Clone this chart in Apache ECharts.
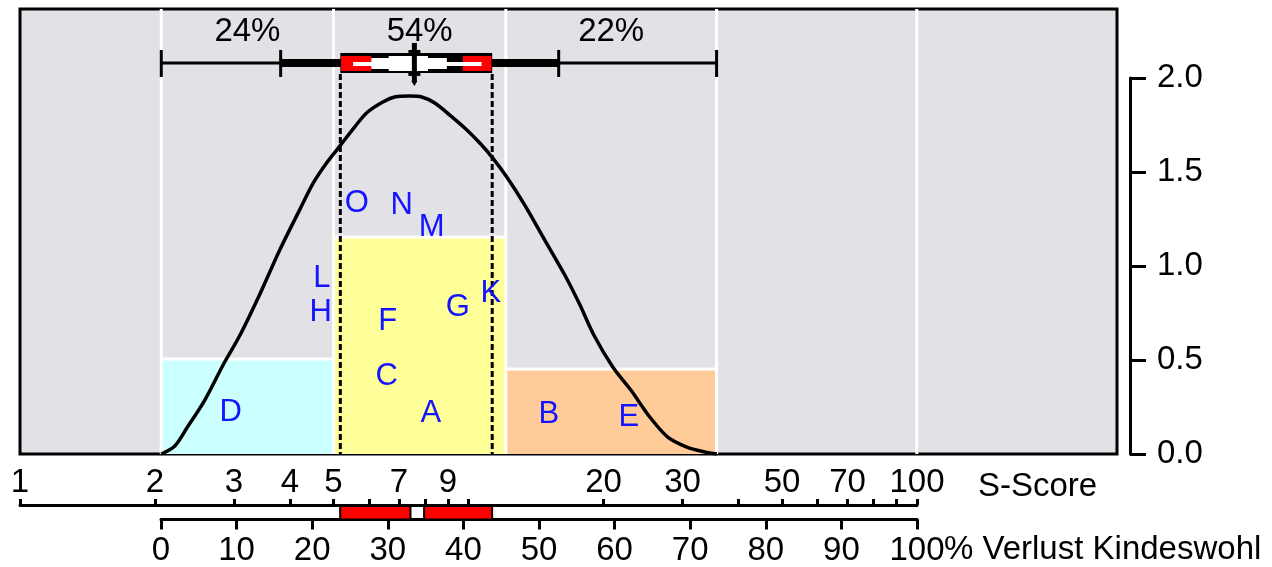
<!DOCTYPE html>
<html>
<head>
<meta charset="utf-8">
<script src="https://cdn.jsdelivr.net/npm/echarts@6/dist/echarts.min.js"></script>
<style>
  html, body { margin: 0; padding: 0; background: #fff; }
  #chart { width: 1272px; height: 567px; }
</style>
</head>
<body>
<div id="chart"></div>
<script>
// x positions are in "% Verlust Kindeswohl", heights in density units
const zoneEdges = [0, 22.8, 45.6, 73.5, 100];
const zoneShares = ['24%', '54%', '22%'];

const blockFrom = [0, 22.8, 45.6];
const blockTo = [22.8, 45.6, 73.5];
const blockHeight = [0.505, 1.154, 0.452];
const blockColors = ['#ccffff', '#ffff99', '#ffcc99'];

const curveX = [0, 1.79, 3.38, 5.76, 8.27, 10.39, 13.04, 15.68, 18.33, 20.05, 21.64, 23.63,
  25.61, 27.2, 29.32, 30.91, 32.89, 34.48, 36.2, 38.19, 40.17, 42.16, 43.88, 45.73, 48.11,
  50.76, 53.41, 55.39, 57.25, 59.76, 62.15, 64.66, 67.04, 69.56, 71.94, 73.53];
const curveY = [0, 0.043, 0.138, 0.287, 0.48, 0.63, 0.85, 1.085, 1.3, 1.437, 1.535, 1.638,
  1.74, 1.815, 1.872, 1.899, 1.904, 1.899, 1.867, 1.803, 1.734, 1.654, 1.574, 1.473, 1.324,
  1.138, 0.952, 0.795, 0.633, 0.463, 0.34, 0.197, 0.09, 0.037, 0.011, 0];

const letterNames = ['O', 'N', 'M', 'L', 'H', 'K', 'G', 'F', 'C', 'A', 'D', 'B', 'E'];
const letterX = [25.88, 31.83, 35.8, 21.24, 21.11, 43.61, 39.25, 29.98, 29.85, 35.67, 9.2, 51.29, 61.88];
const letterY = [1.335, 1.324, 1.207, 0.936, 0.755, 0.856, 0.777, 0.707, 0.41, 0.218, 0.223, 0.213, 0.197];

// range bar at the top
const rangeBarY = 2.08;
const shareLabelY = 2.245;
const whisker = [0, 73.5];
const innerCaps = [15.8, 52.6];
const boxRange = [23.7, 43.8];
const redLeft = [23.8, 27.8];
const redRight = [39.9, 43.7];
const whiteThin = [25.4, 42.4];
const whiteMid = [27.8, 37.8];
const whiteTall = [30.1, 35.3];
const median = 33.5;

// red marks between the two bottom scales
const redBarFrom = [23.7, 34.8];
const redBarTo = [33.0, 43.8];

const sTicks = [1, 2, 3, 4, 5, 6, 7, 8, 9, 10, 20, 30, 40, 50, 60, 70, 80, 90, 100];
const sLabels = [1, 2, 3, 4, 5, 7, 9, 20, 30, 50, 70, 100];

const FONT = 'Liberation Sans';
const FS = 33;

const chart = echarts.init(document.getElementById('chart'));

function rectBetween(api, x0, x1, yTop, yBot, style) {
  const a = api.coord([x0, 0])[0];
  const b = api.coord([x1, 0])[0];
  return { type: 'rect', shape: { x: a, y: yTop, width: b - a, height: yBot - yTop }, style: style };
}

const option = {
  animation: false,
  grid: [
    { left: 20, top: 9, width: 1097, height: 445, show: true, backgroundColor: '#e1e1e6',
      borderColor: '#000', borderWidth: 3 },
    { left: 1100, top: 78, width: 30, height: 376 },
    { left: 20, top: 505, width: 897, height: 1 },
    { left: 161, top: 506, width: 756, height: 16 }
  ],
  xAxis: [
    { gridIndex: 0, type: 'value', min: -18.7, max: 126.5, show: false },
    { gridIndex: 1, type: 'value', min: 0, max: 1, show: false },
    {
      gridIndex: 2, type: 'log', logBase: 10, min: 1, max: 100, position: 'top',
      axisLine: { onZero: false, lineStyle: { color: '#000', width: 3 } },
      axisTick: { customValues: sTicks, length: 6, lineStyle: { color: '#000', width: 3 } },
      minorTick: { show: false },
      splitLine: { show: false },
      axisLabel: { customValues: sLabels, margin: 6, color: '#000', fontSize: FS,
        fontFamily: FONT, lineHeight: 32 },
      name: 'S-Score', nameLocation: 'end', nameGap: 61, nameMoveOverlap: false,
      nameTextStyle: { color: '#000', fontSize: FS, fontFamily: FONT, verticalAlign: 'bottom',
        lineHeight: 32, padding: [0, 0, 2, 0] }
    },
    {
      gridIndex: 3, type: 'value', min: 0, max: 100, interval: 10, position: 'bottom',
      axisLine: { onZero: false, lineStyle: { color: '#000', width: 3 } },
      axisTick: { length: 10, lineStyle: { color: '#000', width: 3 } },
      splitLine: { show: false },
      axisLabel: { margin: 15, color: '#000', fontSize: FS, fontFamily: FONT, lineHeight: 32 },
      name: '% Verlust Kindeswohl', nameLocation: 'end', nameGap: 27, nameMoveOverlap: false,
      nameTextStyle: { color: '#000', fontSize: FS, fontFamily: FONT, verticalAlign: 'top',
        lineHeight: 32, padding: [14, 0, 0, 0] }
    }
  ],
  yAxis: [
    { gridIndex: 0, type: 'value', min: 0, max: 445 / 188, show: false },
    {
      gridIndex: 1, type: 'value', min: 0, max: 2, interval: 0.5, position: 'right',
      axisLine: { show: true, onZero: false, lineStyle: { color: '#000', width: 3 } },
      axisTick: { show: true, length: 16, lineStyle: { color: '#000', width: 3 } },
      splitLine: { show: false },
      axisLabel: { margin: 27, color: '#000', fontSize: FS, fontFamily: FONT,
        formatter: v => v.toFixed(1) }
    },
    { gridIndex: 2, type: 'value', min: 0, max: 1, show: false },
    { gridIndex: 3, type: 'value', min: 0, max: 1, show: false }
  ],
  series: [
    {
      // coloured blocks
      type: 'custom', xAxisIndex: 0, yAxisIndex: 0, z: 1,
      data: blockFrom.map((f, i) => [f, blockTo[i], blockHeight[i], i]),
      renderItem(params, api) {
        const i = api.value(3);
        const p0 = api.coord([api.value(0), api.value(2)]);
        const p1 = api.coord([api.value(1), 0]);
        return {
          type: 'group',
          children: [
            { type: 'rect', shape: { x: p0[0], y: p0[1], width: p1[0] - p0[0], height: p1[1] - p0[1] },
              style: { fill: blockColors[i] } },
            { type: 'line', shape: { x1: p0[0], y1: p0[1], x2: p1[0], y2: p0[1] },
              style: { stroke: '#fff', lineWidth: 3 } }
          ]
        };
      }
    },
    {
      // white zone lines
      type: 'custom', xAxisIndex: 0, yAxisIndex: 0, z: 2,
      data: zoneEdges.map(v => [v]),
      renderItem(params, api) {
        const cs = params.coordSys;
        const x = api.coord([api.value(0), 0])[0];
        return { type: 'line', shape: { x1: x, y1: cs.y, x2: x, y2: cs.y + cs.height },
          style: { stroke: '#fff', lineWidth: 3 } };
      }
    },
    {
      type: 'line', xAxisIndex: 0, yAxisIndex: 0, z: 4,
      data: curveX.map((x, i) => [x, curveY[i]]),
      showSymbol: false, smooth: 0.3,
      lineStyle: { color: '#000', width: 3.5 }
    },
    {
      // range bar with box, plus dashed lines down from the box
      type: 'custom', xAxisIndex: 0, yAxisIndex: 0, z: 5,
      data: [[median, rangeBarY]],
      renderItem(params, api) {
        const cy = api.coord([0, rangeBarY])[1];
        const y0 = api.coord([0, 0])[1];
        const X = v => api.coord([v, rangeBarY])[0];
        const ch = [];
        boxRange.forEach(v => ch.push({ type: 'line',
          shape: { x1: X(v), y1: cy + 11, x2: X(v), y2: y0 },
          style: { stroke: '#000', lineWidth: 3, lineDash: [6, 3] } }));
        ch.push({ type: 'line', shape: { x1: X(whisker[0]), y1: cy, x2: X(whisker[1]), y2: cy },
          style: { stroke: '#000', lineWidth: 3 } });
        ch.push(rectBetween(api, innerCaps[0], innerCaps[1], cy - 4, cy + 4, { fill: '#000' }));
        whisker.concat(innerCaps).forEach(v => ch.push({ type: 'line',
          shape: { x1: X(v), y1: cy - 13, x2: X(v), y2: cy + 14 },
          style: { stroke: '#000', lineWidth: 3 } }));
        ch.push(rectBetween(api, boxRange[0], boxRange[1], cy - 10, cy + 10, { fill: '#000' }));
        ch.push(rectBetween(api, redLeft[0], redLeft[1], cy - 7, cy + 8, { fill: '#ff0000' }));
        ch.push(rectBetween(api, redRight[0], redRight[1], cy - 7, cy + 8, { fill: '#ff0000' }));
        ch.push(rectBetween(api, whiteTall[0], whiteTall[1], cy - 7, cy + 8, { fill: '#fff' }));
        ch.push(rectBetween(api, whiteMid[0], whiteMid[1], cy - 5, cy + 6, { fill: '#fff' }));
        ch.push(rectBetween(api, whiteThin[0], whiteThin[1], cy - 1, cy + 3, { fill: '#fff' }));
        const mx = X(median);
        ch.push({ type: 'line', shape: { x1: mx, y1: cy - 20, x2: mx, y2: cy + 19 },
          style: { stroke: '#000', lineWidth: 5 } });
        ch.push({ type: 'rect', shape: { x: mx - 6, y: cy - 13, width: 12, height: 3 }, style: { fill: '#000' } });
        ch.push({ type: 'rect', shape: { x: mx - 6, y: cy + 10, width: 12, height: 3 }, style: { fill: '#000' } });
        ch.push({ type: 'polygon', shape: { points: [[mx - 3, cy + 18], [mx + 3, cy + 18], [mx, cy + 23]] },
          style: { fill: '#000' } });
        return { type: 'group', children: ch };
      }
    },
    {
      // shares above the zones
      type: 'custom', xAxisIndex: 0, yAxisIndex: 0, z: 3,
      data: zoneShares.map((s, i) => [(zoneEdges[i] + zoneEdges[i + 1]) / 2, shareLabelY, i]),
      renderItem(params, api) {
        const p = api.coord([api.value(0), api.value(1)]);
        return { type: 'text', x: p[0], y: p[1],
          style: { text: zoneShares[api.value(2)], fill: '#000', fontSize: FS, fontFamily: FONT,
            align: 'center', verticalAlign: 'middle' } };
      }
    },
    {
      // letters
      type: 'custom', xAxisIndex: 0, yAxisIndex: 0, z: 6,
      data: letterNames.map((n, i) => [letterX[i], letterY[i], i]),
      renderItem(params, api) {
        const p = api.coord([api.value(0), api.value(1)]);
        return { type: 'text', x: p[0], y: p[1],
          style: { text: letterNames[api.value(2)], fill: '#1414ff', fontSize: 31, fontFamily: FONT,
            align: 'center', verticalAlign: 'middle' } };
      }
    },
    {
      // red marks above the % scale
      type: 'custom', xAxisIndex: 3, yAxisIndex: 3, z: 3,
      data: redBarFrom.map((f, i) => [f, redBarTo[i]]),
      renderItem(params, api) {
        const p0 = api.coord([api.value(0), 1]);
        const p1 = api.coord([api.value(1), 0]);
        return { type: 'rect', shape: { x: p0[0], y: p0[1], width: p1[0] - p0[0], height: p1[1] - p0[1] },
          style: { fill: '#ff0000', stroke: '#000', lineWidth: 2 } };
      }
    }
  ]
};

chart.setOption(option);
</script>
</body>
</html>
